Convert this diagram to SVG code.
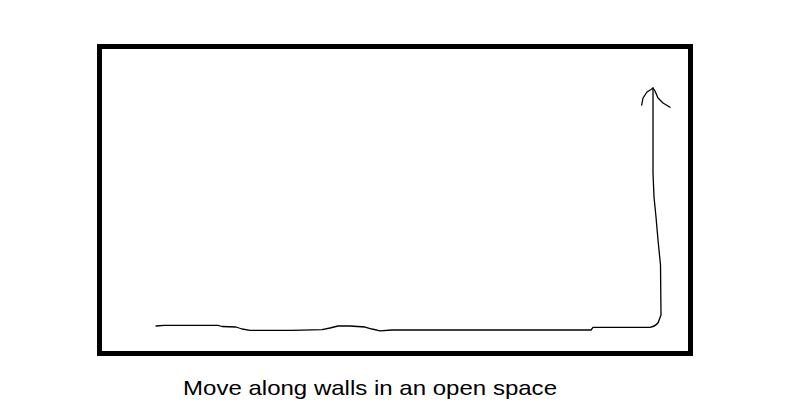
<svg xmlns="http://www.w3.org/2000/svg" width="787" height="418" viewBox="0 0 787 418">
<style>
.wall{fill:none;stroke:#000;stroke-width:5}
.path{fill:none;stroke:#000;stroke-width:1.3;stroke-linejoin:round;stroke-linecap:round}
.cap{font-family:"Liberation Sans","Open Sans",Arial,sans-serif;font-size:21px;fill:#000}
</style>
<rect width="787" height="418" fill="#fff"/>
<g id="room">
<rect class="wall" x="99.5" y="46.5" width="591" height="307"/>
</g>
<g id="connectors">
<path class="path" d="M156,326 L164,325.3 L218,325.3 L222,326.5 L236,327 L242,329 L250,330.3 L292,330.3 L322,329.6 L330,328 L338,326 L350,326 L365,327 L372,329 L380,330.8 L392,330 L407,330 L591,330 L593,327.3 L650,327.3 Q658,326 659.5,319 L661,315 L660.5,265 L658,240 L656,217 L654,197 L653,173 L653,130 L653,88"/>
<path class="path" d="M641.7,105 L643,98 L647,92 L651,89.5 L653,88 L655,91 L658,98 L663,103 L670,107.3"/>
</g>
<g id="caption">
<text class="cap" x="183" y="395" textLength="374" lengthAdjust="spacingAndGlyphs">Move along walls in an open space</text>
</g>
</svg>
